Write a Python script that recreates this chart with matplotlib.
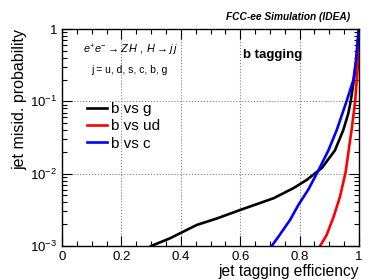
import matplotlib
matplotlib.use("Agg")
import matplotlib.pyplot as plt
from matplotlib.ticker import LogLocator, FixedLocator, NullFormatter

plt.rcParams['font.family'] = ['Liberation Sans', 'DejaVu Sans']
plt.rcParams['mathtext.fontset'] = 'custom'
plt.rcParams['mathtext.rm'] = 'Liberation Sans'
plt.rcParams['mathtext.it'] = 'Liberation Sans:italic'

# ----------------------- Data -----------------------------------------------------
eff_g = [0.30, 0.364, 0.453, 0.521, 0.60, 0.712, 0.779, 0.824, 0.875, 0.919, 0.947, 0.964, 0.972, 0.983, 0.992, 1.0]
mis_g = [1.0e-3, 1.28e-3, 1.95e-3, 2.4e-3, 3.15e-3, 4.57e-3, 6.3e-3, 8.2e-3, 1.2e-2, 2.1e-2, 4.0e-2, 6.8e-2, 0.1, 0.2, 0.4, 1.0]

eff_ud = [0.869, 0.891, 0.914, 0.936, 0.955, 0.970, 0.975, 0.987, 0.995, 1.0]
mis_ud = [1.0e-3, 1.42e-3, 2.5e-3, 4.8e-3, 1.05e-2, 2.9e-2, 4.0e-2, 0.1, 0.27, 1.0]

eff_c = [0.706, 0.729, 0.768, 0.796, 0.829, 0.863, 0.897, 0.925, 0.958, 0.981, 0.990, 0.998, 1.0]
mis_c = [1.0e-3, 1.35e-3, 2.3e-3, 3.7e-3, 6.0e-3, 1.1e-2, 2.1e-2, 4.0e-2, 0.1, 0.197, 0.37, 0.9, 1.0]

labels = ["b vs g", "b vs ud", "b vs c"]
colors = ["black", "red", "blue"]

x_ticks = [0, 0.2, 0.4, 0.6, 0.8, 1.0]
x_ticklabels = ["0", "0.2", "0.4", "0.6", "0.8", "1"]
y_ticks = [1e-3, 1e-2, 1e-1, 1]
y_ticklabels = [r"$10^{-3}$", r"$10^{-2}$", r"$10^{-1}$", "1"]

# ----------------------- Plot ---------------------------
fig = plt.figure(figsize=(3.9, 2.8), dpi=100)
ax = fig.add_axes([0.159, 0.1214, 0.7615, 0.775])

for x, y, lab, c in zip([eff_g, eff_ud, eff_c], [mis_g, mis_ud, mis_c], labels, colors):
    ax.plot(x, y, color=c, lw=1.9, label=lab)

ax.set_yscale("log")
ax.set_xlim(0, 1)
ax.set_ylim(1e-3, 1)

ax.set_xticks(x_ticks)
ax.set_xticklabels(x_ticklabels)
ax.xaxis.set_minor_locator(FixedLocator([i * 0.05 for i in range(21)]))
ax.set_yticks(y_ticks)
ax.set_yticklabels(y_ticklabels)
ax.yaxis.set_minor_locator(LogLocator(base=10, subs=range(2, 10), numticks=20))
ax.yaxis.set_minor_formatter(NullFormatter())

ax.tick_params(which="both", direction="in", top=True, right=True, labelsize=9.5)
ax.tick_params(which="major", length=7, width=0.8)
ax.tick_params(which="minor", length=3.5, width=0.8)
ax.grid(True, which="major", linestyle=":", color="gray", linewidth=0.8)
for s in ax.spines.values():
    s.set_linewidth(1.0)

ax.set_xlabel("jet tagging efficiency", fontsize=11.2, loc="right", labelpad=1)
ax.set_ylabel("jet misid. probability", fontsize=11.5, loc="top", labelpad=2)

ax.legend(loc="upper left", bbox_to_anchor=(0.065, 0.69), frameon=False, fontsize=11,
          handlelength=1.3, handletextpad=0.25, labelspacing=0.2, borderaxespad=0)

fig.text(0.897, 0.94, "FCC-ee Simulation (IDEA)", ha="right", va="center",
         fontsize=7.3, fontweight="bold", fontstyle="italic")
ax.text(0.708, 0.88, "b tagging", transform=ax.transAxes, ha="center", va="center",
        fontsize=9.5, fontweight="bold")
ax.text(0.07, 0.90, r"$e^{+}e^{-} \rightarrow Z\,H\ ,\ H \rightarrow j\,j$", transform=ax.transAxes,
        ha="left", va="center", fontsize=7.8)
ax.text(0.098, 0.81, "j = u, d, s, c, b, g", transform=ax.transAxes, ha="left", va="center",
        fontsize=7.5)

plt.savefig("out.png", dpi=100)
